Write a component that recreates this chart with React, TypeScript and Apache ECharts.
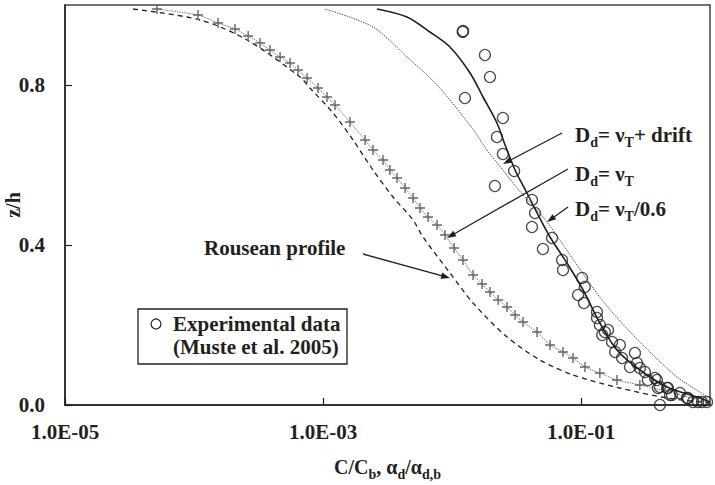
import React, { useEffect, useRef } from "react";
import * as echarts from "echarts";

// Experimental data (Muste et al. 2005)
const expX = [0.0122, 0.0121, 0.018, 0.0197, 0.0126, 0.0248, 0.0223, 0.0248, 0.0303, 0.0215, 0.0417, 0.044, 0.0417, 0.0596, 0.0507, 0.0713, 0.0725, 0.102, 0.107, 0.0949, 0.1054, 0.133, 0.133, 0.14, 0.162, 0.146, 0.153, 0.174, 0.2, 0.184, 0.208, 0.262, 0.272, 0.24, 0.286, 0.313, 0.33, 0.375, 0.388, 0.395, 0.409, 0.465, 0.472, 0.49, 0.507, 0.585, 0.664, 0.674, 0.738, 0.807, 0.867, 0.949, 0.409];
const expY = [0.935, 0.933, 0.875, 0.82, 0.7675, 0.7175, 0.67, 0.6275, 0.585, 0.5475, 0.5125, 0.48, 0.445, 0.4175, 0.39, 0.3625, 0.3375, 0.3175, 0.295, 0.275, 0.255, 0.2325, 0.2175, 0.2, 0.1875, 0.175, 0.1825, 0.1575, 0.15, 0.1325, 0.1175, 0.13, 0.105, 0.095, 0.0925, 0.0825, 0.0625, 0.0675, 0.0625, 0.0425, 0.045, 0.0425, 0.0425, 0.025, 0.025, 0.03, 0.0175, 0.0175, 0.0075, 0.0075, 0.0075, 0.0075, 0];

// D_d = nu_T (crosses)
const nuTX = [5.16e-5, 1.074e-4, 1.535e-4, 2.08e-4, 2.63e-4, 3.25e-4, 3.88e-4, 4.65e-4, 5.55e-4, 6.4e-4, 7.52e-4, 9.14e-4, 1.074e-3, 1.239e-3, 1.618e-3, 2.12e-3, 2.44e-3, 2.92e-3, 3.3e-3, 3.75e-3, 4.33e-3, 4.99e-3, 5.65e-3, 6.52e-3, 7.66e-3, 8.83e-3, 0.01038, 0.01216, 0.01456, 0.0171, 0.0197, 0.0228, 0.0267, 0.0308, 0.0355, 0.0456, 0.0575, 0.0725, 0.0867, 0.1074, 0.14, 0.19, 0.286];
const nuTY = [0.99, 0.975, 0.955, 0.94, 0.9225, 0.905, 0.8875, 0.87, 0.855, 0.8375, 0.8175, 0.7925, 0.77, 0.75, 0.7075, 0.6625, 0.6375, 0.6125, 0.5875, 0.5675, 0.5425, 0.5175, 0.4925, 0.47, 0.45, 0.425, 0.3925, 0.3625, 0.325, 0.3025, 0.2825, 0.2625, 0.245, 0.225, 0.2075, 0.1825, 0.15, 0.1325, 0.1175, 0.095, 0.08, 0.0625, 0.05];
const nuTTailX = [0.49, 1.0];
const nuTTailY = [0.0325, 0.005];

// D_d = nu_T + drift (solid)
const driftX = [2.62e-3, 4.48e-3, 6.74e-3, 9.64e-3, 0.0138, 0.0174, 0.0223, 0.0258, 0.0308, 0.0381, 0.0465, 0.0575, 0.0778, 0.1038, 0.14, 0.19, 0.286, 0.465, 0.835, 1.0];
const driftY = [0.99, 0.97, 0.9325, 0.895, 0.83, 0.77, 0.705, 0.65, 0.5875, 0.53, 0.475, 0.42, 0.355, 0.2875, 0.205, 0.1375, 0.0875, 0.045, 0.0175, 0.0075];

// D_d = nu_T / 0.6 (thin dotted)
const nu06X = [1.038e-3, 2.44e-3, 4.48e-3, 7.66e-3, 0.01429, 0.01866, 0.0248, 0.0319, 0.0544, 0.0897, 0.1455, 0.253, 0.555, 1.0];
const nu06Y = [0.99, 0.945, 0.87, 0.8, 0.6925, 0.6375, 0.5875, 0.5425, 0.4575, 0.3575, 0.2625, 0.175, 0.07, 0.0175];

// Rousean profile (dashed)
const rouseX = [3.37e-5, 1.115e-4, 2.58e-4, 6.64e-4, 7.92e-4, 1.197e-3, 1.71e-3, 2.44e-3, 3.49e-3, 4.99e-3, 5.96e-3, 9.64e-3, 0.01456, 0.0267, 0.0481, 0.0867, 0.2, 0.465, 1.0];
const rouseY = [0.99, 0.9625, 0.9125, 0.82, 0.7925, 0.73, 0.6625, 0.5875, 0.52, 0.4625, 0.42, 0.33, 0.255, 0.17, 0.1125, 0.075, 0.0425, 0.0175, 0.005];

const xTickValues = [1e-5, 1e-3, 1e-1];
const xTickLabels = ["1.0E-05", "1.0E-03", "1.0E-01"];
const yTickValues = [0, 0.4, 0.8];
const yTickLabels = ["0.0", "0.4", "0.8"];

const FONT = "'Liberation Serif', 'Times New Roman', serif";
const INK = "#231f20";

const zip = (xs: number[], ys: number[]) => xs.map((x, i) => [x, ys[i]]);

function arrow(x1: number, y1: number, x2: number, y2: number) {
  const dx = x2 - x1, dy = y2 - y1;
  const L = Math.hypot(dx, dy);
  const ux = dx / L, uy = dy / L;
  const len = 9, hw = 3.2;
  const bx = x2 - ux * len, by = y2 - uy * len;
  return [
    { type: "line", shape: { x1, y1, x2: bx + ux * 2, y2: by + uy * 2 }, style: { stroke: INK, lineWidth: 1.3 } },
    { type: "polygon", shape: { points: [[x2, y2], [bx - uy * hw, by + ux * hw], [bx + uy * hw, by - ux * hw]] }, style: { fill: INK } },
  ];
}

const subRich = {
  b: { fontSize: 21, fontWeight: "bold", fontFamily: FONT, fill: INK, lineHeight: 28 },
  s: { fontSize: 14, fontWeight: "bold", fontFamily: FONT, fill: INK, lineHeight: 14, verticalAlign: "bottom" },
};

function richText(x: number, y: number, text: string) {
  return {
    type: "text",
    x,
    y,
    style: { text, rich: subRich, verticalAlign: "middle", align: "left" },
  };
}

export default function App() {
  const ref = useRef<HTMLDivElement>(null);
  useEffect(() => {
    document.body.style.margin = "0";
    const chart = echarts.init(ref.current!, null, { renderer: "svg" });
    const crossData = [
      ...zip(nuTX, nuTY).map((v) => ({ value: v })),
      ...zip(nuTTailX, nuTTailY).map((v) => ({ value: v, symbol: "none" })),
    ];
    chart.setOption({
      animation: false,
      backgroundColor: "#fff",
      grid: {
        left: 65, right: 5, top: 5, bottom: 80,
        containLabel: false, outerBoundsMode: "none",
        show: true, borderColor: "#444", borderWidth: 1.5,
      },
      xAxis: {
        type: "log",
        logBase: 10,
        min: 1e-5,
        max: 1,
        name: "{a|C/C}{s|b}{a|, α}{s|d}{a|/α}{s|d,b}",
        nameLocation: "middle",
        nameGap: 48,
        nameMoveOverlap: false,
        nameTextStyle: {
          rich: {
            a: { fontSize: 20, fontWeight: "bold", fontFamily: FONT, color: INK, lineHeight: 28 },
            s: { fontSize: 14, fontWeight: "bold", fontFamily: FONT, color: INK, lineHeight: 14, verticalAlign: "bottom" },
          },
        },
        axisLine: { lineStyle: { color: INK, width: 1.5 } },
        axisTick: { inside: true, length: 7, customValues: xTickValues, lineStyle: { color: INK, width: 1.2 } },
        minorTick: { show: false },
        splitLine: { show: false },
        axisLabel: {
          customValues: xTickValues,
          margin: 16,
          fontSize: 21,
          fontWeight: "bold",
          fontFamily: FONT,
          color: INK,
          formatter: (v: number) => {
            const i = xTickValues.findIndex((t) => Math.abs(Math.log10(t) - Math.log10(v)) < 1e-6);
            return i >= 0 ? xTickLabels[i] : "";
          },
        },
      },
      yAxis: {
        type: "value",
        min: 0,
        max: 1,
        name: "z/h",
        nameLocation: "middle",
        nameGap: 42,
        nameMoveOverlap: false,
        nameRotate: 90,
        nameTextStyle: { fontSize: 20, fontWeight: "bold", fontFamily: FONT, color: INK },
        axisLine: { show: true, lineStyle: { color: INK, width: 1.5 } },
        axisTick: { show: true, inside: true, length: 7, customValues: yTickValues, lineStyle: { color: INK, width: 1.2 } },
        splitLine: { show: false },
        axisLabel: {
          customValues: yTickValues,
          margin: 20,
          fontSize: 21,
          fontWeight: "bold",
          fontFamily: FONT,
          color: INK,
          formatter: (v: number) => {
            const i = yTickValues.findIndex((t) => Math.abs(t - v) < 1e-9);
            return i >= 0 ? yTickLabels[i] : "";
          },
        },
      },
      series: [
        {
          name: "Rousean profile",
          type: "line",
          data: zip(rouseX, rouseY),
          smooth: 0.3,
          showSymbol: false,
          symbol: "none",
          lineStyle: { color: INK, width: 1.3, type: [5, 4] },
        },
        {
          name: "D_d = nu_T/0.6",
          type: "line",
          data: zip(nu06X, nu06Y),
          smooth: 0.3,
          symbol: "none",
          lineStyle: { color: "#555", width: 1, type: [1.5, 1] },
        },
        {
          name: "D_d = nu_T",
          type: "line",
          data: crossData,
          smooth: 0.2,
          symbol: "path://M0,5H10M5,0V10",
          symbolSize: 10,
          showSymbol: true,
          itemStyle: { color: "none", borderColor: "#666", borderWidth: 1.4 },
          lineStyle: { color: "#555", width: 0.8, type: [1.5, 1] },
        },
        {
          name: "D_d = nu_T + drift",
          type: "line",
          data: zip(driftX, driftY),
          smooth: 0.3,
          symbol: "none",
          lineStyle: { color: INK, width: 1.6 },
        },
        {
          name: "Experimental data",
          type: "scatter",
          data: zip(expX, expY),
          symbol: "circle",
          symbolSize: 11,
          itemStyle: { color: "rgba(0,0,0,0)", borderColor: INK, borderWidth: 1.3 },
          z: 5,
        },
      ],
      graphic: [
        ...arrow(363, 254, 450, 278),
        ...arrow(562, 133, 503, 164),
        ...arrow(568, 169, 447, 238),
        ...arrow(568, 207, 547, 222),
        richText(575, 135, "{b|D}{s|d}{b|= ν}{s|T}{b|+ drift}"),
        richText(575, 174, "{b|D}{s|d}{b|= ν}{s|T}"),
        richText(575, 209, "{b|D}{s|d}{b|= ν}{s|T}{b|/0.6}"),
        {
          type: "text",
          x: 204,
          y: 248,
          style: { text: "Rousean profile", font: `bold 21px ${FONT}`, fill: INK, verticalAlign: "middle" },
        },
        {
          type: "rect",
          shape: { x: 138, y: 309, width: 209, height: 55 },
          style: { fill: "#fff", stroke: INK, lineWidth: 1.3 },
          z: 10,
        },
        { type: "circle", shape: { cx: 156, cy: 324, r: 5 }, style: { fill: "none", stroke: INK, lineWidth: 1.2 }, z: 11 },
        {
          type: "text",
          x: 173,
          y: 324,
          style: { text: "Experimental data", font: `bold 21px ${FONT}`, fill: INK, verticalAlign: "middle" },
          z: 11,
        },
        {
          type: "text",
          x: 173,
          y: 347,
          style: { text: "(Muste et al. 2005)", font: `bold 21px ${FONT}`, fill: INK, verticalAlign: "middle" },
          z: 11,
        },
      ],
    });
    return () => chart.dispose();
  }, []);
  return <div ref={ref} style={{ width: 715, height: 485 }} />;
}
